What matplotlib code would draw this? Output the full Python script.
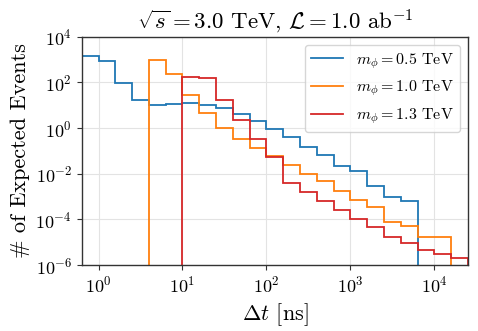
import numpy as np
import matplotlib
matplotlib.use("Agg")
import matplotlib.pyplot as plt
from matplotlib.ticker import LogLocator, NullLocator

plt.rcParams["font.family"] = "serif"
plt.rcParams["font.serif"] = ["cmr10"]
plt.rcParams["mathtext.fontset"] = "cm"
plt.rcParams["axes.formatter.use_mathtext"] = True

# bin edges in log10(dt / ns), 0.2 decades wide
log_edges = np.round(np.arange(-0.2, 4.41, 0.2), 2)
edges = 10.0 ** log_edges

# log10 of expected events per bin, with the first bin index of each series
blue_start = 0
blue_log = [3.17, 2.93, 1.98, 1.22, 0.99, 1.06, 1.11, 1.02, 0.86, 0.62, 0.32,
            -0.02, -0.41, -0.82, -1.19, -1.66, -1.90, -2.55, -3.02, -3.21]
orange_start = 4
orange_log = [2.96, 2.36, 1.47, 0.65, 0.01, -0.46, -0.88, -1.22, -1.60, -1.99,
              -2.33, -2.77, -3.13, -3.46, -4.11, -4.29, -4.77, -4.77]
red_start = 6
red_log = [2.23, 2.21, 1.21, 0.36, -0.46, -1.28, -2.40, -2.80, -3.19, -3.60,
           -3.97, -4.33, -4.77, -5.02, -5.32, -5.50, -5.69]

series = [
    (blue_start, blue_log, "tab:blue", r"$m_\phi = 0.5$ TeV"),
    (orange_start, orange_log, "tab:orange", r"$m_\phi = 1.0$ TeV"),
    (red_start, red_log, "tab:red", r"$m_\phi = 1.3$ TeV"),
]

fig = plt.figure(figsize=(4.78, 3.31), dpi=100)
ax = fig.add_axes([0.171, 0.199, 0.808, 0.690])

for start, vals, color, label in series:
    e = edges[start:start + len(vals) + 1]
    ax.stairs(10.0 ** np.array(vals), e, baseline=0, color=color, lw=1.3,
              label=label)

ax.set_xscale("log")
ax.set_yscale("log", nonpositive="clip")
ax.set_xlim(edges[0], edges[-1])
ax.set_ylim(1e-6, 1e4)
ax.yaxis.set_major_locator(LogLocator(base=100.0))
ax.xaxis.set_major_locator(LogLocator(base=10.0))
ax.xaxis.set_minor_locator(NullLocator())
ax.yaxis.set_minor_locator(NullLocator())

ax.grid(True, color="#e3e3e3", lw=0.8)
ax.set_axisbelow(True)
for s in ax.spines.values():
    s.set_color("#333333")
    s.set_linewidth(1.0)
ax.tick_params(labelsize=13, length=3.5, width=0.8, color="#333333")

ax.set_title(r"$\sqrt{s} = 3.0$ TeV, $\mathcal{L} = 1.0$ ab$^{-1}$", fontsize=16.5)
ax.set_xlabel(r"$\Delta t$ [ns]", fontsize=16)
ax.set_ylabel(r"# of Expected Events", fontsize=16)
ax.legend(loc="upper right", fontsize=11.5, framealpha=0.8)

fig.savefig("out.png", dpi=100)
